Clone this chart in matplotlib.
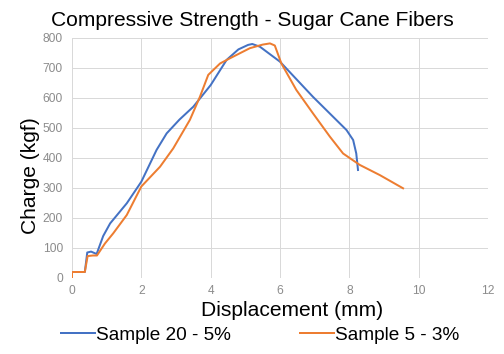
import matplotlib
matplotlib.use("Agg")
import matplotlib.pyplot as plt

# Sample 20 - 5%
disp_s20 = [0.0, 0.0, 0.37, 0.44, 0.55, 0.71, 0.9, 1.1, 1.58, 2.0, 2.44, 2.73, 3.1, 3.5,
            4.0, 4.46, 4.8, 5.08, 5.2, 5.42, 6.0, 6.95, 7.92, 8.11, 8.2, 8.25]
load_s20 = [0, 20, 20, 85, 88, 80, 140, 182, 249, 321, 427, 482, 528, 571,
            643, 727, 762, 777, 780, 771, 721, 604, 493, 460, 415, 360]

# Sample 5 - 3%
disp_s5 = [0.0, 0.0, 0.37, 0.45, 0.6, 0.72, 0.95, 1.19, 1.58, 2.0, 2.54, 2.92, 3.4, 3.69,
           3.93, 4.27, 4.55, 5.13, 5.5, 5.71, 5.85, 6.04, 6.47, 6.95, 7.44, 7.82, 8.3, 8.88, 9.55]
load_s5 = [0, 20, 20, 73, 75, 75, 115, 149, 210, 305, 371, 432, 527, 604,
           677, 715, 732, 766, 778, 782, 775, 715, 627, 549, 471, 415, 377, 343, 299]

BLUE = "#4472C4"
ORANGE = "#ED7D31"
TICK = "#8c8c8c"
W, H = 504, 354

plt.rcParams["font.family"] = ["Liberation Sans", "DejaVu Sans"]

fig = plt.figure(figsize=(W / 72, H / 72), dpi=72)
ax = fig.add_axes([72 / W, 1 - 278 / H, 416 / W, 240 / H])

ax.plot(disp_s20, load_s20, color=BLUE, lw=2.0, label="Sample 20 - 5%",
        solid_joinstyle="round", zorder=3)
ax.plot(disp_s5, load_s5, color=ORANGE, lw=2.0, label="Sample 5 - 3%",
        solid_joinstyle="round", zorder=3)

ax.set_xlim(0, 12)
ax.set_ylim(0, 800)
ax.set_xticks(range(0, 13, 2))
ax.set_yticks(range(0, 801, 100))
ax.grid(True, color="#d9d9d9", lw=1.0)
ax.set_axisbelow(True)
for s in ax.spines.values():
    s.set_visible(False)
ax.tick_params(axis="y", length=0, labelsize=12, colors=TICK, pad=9)
ax.tick_params(axis="x", length=0, labelsize=12, colors=TICK, pad=7)

# title, axis labels placed in figure pixels, like the reference
fig.text(252 / W, 1 - 20 / H, "Compressive Strength - Sugar Cane Fibers",
         fontsize=21, ha="center", va="center")
fig.text(292 / W, 1 - 310 / H, "Displacement (mm)", fontsize=21, ha="center", va="center")
fig.text(30 / W, 1 - 176 / H, "Charge (kgf)", fontsize=21, rotation=90,
         ha="center", va="center")

ax.legend(loc="center", bbox_to_anchor=(260 / W, 1 - 335 / H), bbox_transform=fig.transFigure,
          ncol=2, frameon=False, fontsize=19, handlelength=1.8, handletextpad=0.05,
          columnspacing=3.6, borderpad=0)

fig.savefig("out.png", dpi=72, facecolor="white")
